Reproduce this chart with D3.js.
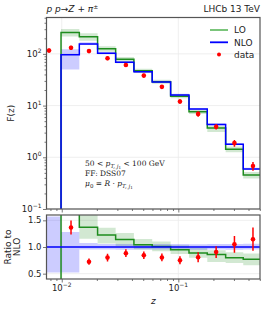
<!DOCTYPE html>
<html>
<head>
<meta charset="utf-8">
<script src="https://cdn.jsdelivr.net/npm/d3@7"></script>
<style>
  body { margin: 0; background: #fff; }
  svg { display: block; font-family: "DejaVu Sans", sans-serif; }
</style>
</head>
<body>
<div id="chart"></div>
<script>
// bin edges in z (first edge is the underflow bin, below the NLO range)
var binEdges = [0.0062, 0.00986, 0.01415, 0.0203, 0.0290, 0.0416, 0.0597, 0.0859, 0.1235, 0.1772, 0.2547, 0.3606, 0.517];

// NLO prediction per bin (bins 1..11)
var nloVal = [96, 156, 103, 69, 45, 28.6, 16, 8.55, 4.31, 1.79, 0.593];
var nloLo  = [50, 149, 98, 65.5, 42.8, 27.2, 15.2, 8.1, 4.1, 1.70, 0.565];
var nloHi  = [123, 168, 109, 73, 47.5, 30.2, 16.9, 9.0, 4.55, 1.89, 0.63];
// ratio band of the underflow bin [lo, hi]
var nloUnderflowBand = [0.52, 1.57];

// LO prediction per bin
var loVal = [259, 214, 126, 78.7, 47, 28.9, 15.2, 7.6, 3.7, 1.43, 0.456];
var loLo  = [217, 180, 110, 70.4, 42.8, 26.3, 13.9, 6.84, 3.1, 1.25, 0.39];
var loHi  = [302, 250, 140, 87, 51.8, 31.5, 16.5, 8.38, 4.05, 1.61, 0.52];

// LHCb data
var dataX   = [0.00778, 0.01201, 0.01713, 0.0247, 0.0355, 0.0506, 0.0723, 0.1033, 0.1479, 0.2111, 0.3030, 0.437];
var dataY   = [116, 131, 113, 82.5, 61, 38, 23, 12, 6.9, 3.9, 1.88, 0.68];
var dataErr = [11, 12.5, 9, 7.5, 5, 3.2, 2.1, 1.2, 0.8, 0.47, 0.28, 0.13];

var mainTicks = [0.1, 1, 10, 100];
var ratioTicks = [0.5, 1.0, 1.5];
var xTicks = [0.01, 0.1];

var W = 267, H = 312;
var left = 46.5, right = 260;
var mainTop = 17.5, mainBottom = 209;
var ratioTop = 215, ratioBottom = 279;

var svg = d3.select("#chart").append("svg")
    .attr("width", W)
    .attr("height", H);

var x = d3.scaleLog().domain([0.0074, 0.502]).range([left, right]);
var y = d3.scaleLog().domain([0.1, 505]).range([mainBottom, mainTop]);
var yr = d3.scaleLinear().domain([0.4, 1.6]).range([ratioBottom, ratioTop]);

var green = "#1e8c1e", blue = "#0000ff", red = "#ff0000";

// minor tick helpers (2..9 per decade)
function minorLog(domain) {
    var out = [];
    for (var e = -4; e <= 4; e++) {
        for (var m = 2; m <= 9; m++) {
            var v = m * Math.pow(10, e);
            if (v >= domain[0] && v <= domain[1]) out.push(v);
        }
    }
    return out;
}

function supLabel(sel, exp) {
    sel.append("tspan").text("10");
    sel.append("tspan").attr("dy", -4).attr("font-size", 6).text(exp < 0 ? "\u2212" + (-exp) : exp);
}

// step helpers: values per bin -> points with repeated last edge
function stepPoints(edges, vals, startVal) {
    var pts = [];
    if (startVal !== undefined) pts.push([edges[0], startVal]);
    for (var i = 0; i < vals.length; i++) pts.push([edges[i], vals[i]]);
    pts.push([edges[vals.length], vals[vals.length - 1]]);
    return pts;
}
function bandPoints(edges, lo, hi) {
    var pts = [];
    for (var i = 0; i < lo.length; i++) pts.push([edges[i], lo[i], hi[i]]);
    pts.push([edges[lo.length], lo[lo.length - 1], hi[hi.length - 1]]);
    return pts;
}

var nloEdges = binEdges.slice(1);

// ---------- clip paths ----------
var defs = svg.append("defs");
defs.append("clipPath").attr("id", "clipMain").append("rect")
    .attr("x", left).attr("y", mainTop).attr("width", right - left).attr("height", mainBottom - mainTop);
defs.append("clipPath").attr("id", "clipRatio").append("rect")
    .attr("x", left).attr("y", ratioTop).attr("width", right - left).attr("height", ratioBottom - ratioTop);

// ---------- grids ----------
function grid(g, yScale, yVals, top, bottom) {
    g.selectAll(".gx").data(xTicks).enter().append("line")
        .attr("x1", function (d) { return x(d); }).attr("x2", function (d) { return x(d); })
        .attr("y1", top).attr("y2", bottom)
        .attr("stroke", "#ebebeb").attr("stroke-width", 0.8);
    g.selectAll(".gy").data(yVals).enter().append("line")
        .attr("x1", left).attr("x2", right)
        .attr("y1", function (d) { return yScale(d); }).attr("y2", function (d) { return yScale(d); })
        .attr("stroke", "#ebebeb").attr("stroke-width", 0.8);
}
grid(svg.append("g"), y, mainTicks, mainTop, mainBottom);
grid(svg.append("g"), yr, ratioTicks, ratioTop, ratioBottom);

// ---------- main panel ----------
var main = svg.append("g").attr("clip-path", "url(#clipMain)");

var areaMain = d3.area().curve(d3.curveStepAfter)
    .x(function (d) { return x(d[0]); })
    .y0(function (d) { return y(d[1]); })
    .y1(function (d) { return y(d[2]); });
var lineMain = d3.line().curve(d3.curveStepAfter)
    .x(function (d) { return x(d[0]); })
    .y(function (d) { return y(d[1]); });

main.append("path").attr("d", areaMain(bandPoints(nloEdges, loLo, loHi)))
    .attr("fill", green).attr("fill-opacity", 0.2);
main.append("path").attr("d", areaMain(bandPoints(nloEdges, nloLo, nloHi)))
    .attr("fill", blue).attr("fill-opacity", 0.2);
main.append("path").attr("d", lineMain(stepPoints(nloEdges, loVal, 0.001)))
    .attr("fill", "none").attr("stroke", green).attr("stroke-width", 1.5);
main.append("path").attr("d", lineMain(stepPoints(nloEdges, nloVal, 0.001)))
    .attr("fill", "none").attr("stroke", blue).attr("stroke-width", 1.5);

main.selectAll(".err").data(dataX).enter().append("line")
    .attr("x1", function (d) { return x(d); }).attr("x2", function (d) { return x(d); })
    .attr("y1", function (d, i) { return y(dataY[i] - dataErr[i]); })
    .attr("y2", function (d, i) { return y(dataY[i] + dataErr[i]); })
    .attr("stroke", red).attr("stroke-width", 1.5);
main.selectAll(".pt").data(dataX).enter().append("circle")
    .attr("cx", function (d) { return x(d); })
    .attr("cy", function (d, i) { return y(dataY[i]); })
    .attr("r", 2.3).attr("fill", red);

// ---------- ratio panel ----------
var ratio = svg.append("g").attr("clip-path", "url(#clipRatio)");

var areaR = d3.area().curve(d3.curveStepAfter)
    .x(function (d) { return x(d[0]); })
    .y0(function (d) { return yr(d[1]); })
    .y1(function (d) { return yr(d[2]); });
var lineR = d3.line().curve(d3.curveStepAfter)
    .x(function (d) { return x(d[0]); })
    .y(function (d) { return yr(d[1]); });

var loRatio = loVal.map(function (v, i) { return v / nloVal[i]; });
var loRatioLo = loLo.map(function (v, i) { return v / nloVal[i]; });
var loRatioHi = loHi.map(function (v, i) { return v / nloVal[i]; });
var nloRatioLo = [nloUnderflowBand[0]].concat(nloLo.map(function (v, i) { return v / nloVal[i]; }));
var nloRatioHi = [nloUnderflowBand[1]].concat(nloHi.map(function (v, i) { return v / nloVal[i]; }));
var nloRatio = [1].concat(nloVal.map(function (v, i) { return v / nloVal[i]; }));

ratio.append("path").attr("d", areaR(bandPoints(nloEdges, loRatioLo, loRatioHi)))
    .attr("fill", green).attr("fill-opacity", 0.2);
ratio.append("path").attr("d", areaR(bandPoints(binEdges, nloRatioLo, nloRatioHi)))
    .attr("fill", blue).attr("fill-opacity", 0.2);
ratio.append("path").attr("d", lineR(stepPoints(nloEdges, loRatio, 0)))
    .attr("fill", "none").attr("stroke", green).attr("stroke-width", 1.5);
ratio.append("path").attr("d", lineR(stepPoints(binEdges, nloRatio)))
    .attr("fill", "none").attr("stroke", blue).attr("stroke-width", 1.5);

// data / NLO, skipping the underflow point
var rData = dataX.slice(1).map(function (d, i) {
    return { z: d, r: dataY[i + 1] / nloVal[i], e: dataErr[i + 1] / nloVal[i] };
});
ratio.selectAll(".rerr").data(rData).enter().append("line")
    .attr("x1", function (d) { return x(d.z); }).attr("x2", function (d) { return x(d.z); })
    .attr("y1", function (d) { return yr(d.r - d.e); })
    .attr("y2", function (d) { return yr(d.r + d.e); })
    .attr("stroke", red).attr("stroke-width", 1.5);
ratio.selectAll(".rpt").data(rData).enter().append("circle")
    .attr("cx", function (d) { return x(d.z); })
    .attr("cy", function (d) { return yr(d.r); })
    .attr("r", 2.3).attr("fill", red);

// ---------- axes ----------
var axisColor = "#555";
function styleAxis(g) {
    g.select(".domain").remove();
    g.selectAll("line").attr("stroke", axisColor).attr("stroke-width", 0.8);
    g.selectAll("text").remove();
}
var xMinor = minorLog(x.domain());

// main x ticks (no labels)
svg.append("g").attr("transform", "translate(0," + mainBottom + ")")
    .call(d3.axisBottom(x).tickValues(xTicks).tickSize(3.5)).call(styleAxis);
svg.append("g").attr("transform", "translate(0," + mainBottom + ")")
    .call(d3.axisBottom(x).tickValues(xMinor).tickSize(2)).call(styleAxis);
// ratio x ticks
svg.append("g").attr("transform", "translate(0," + ratioBottom + ")")
    .call(d3.axisBottom(x).tickValues(xTicks).tickSize(3.5)).call(styleAxis);
svg.append("g").attr("transform", "translate(0," + ratioBottom + ")")
    .call(d3.axisBottom(x).tickValues(xMinor).tickSize(2)).call(styleAxis);
// main y ticks
svg.append("g").attr("transform", "translate(" + left + ",0)")
    .call(d3.axisLeft(y).tickValues(mainTicks).tickSize(3.5)).call(styleAxis);
svg.append("g").attr("transform", "translate(" + left + ",0)")
    .call(d3.axisLeft(y).tickValues(minorLog(y.domain())).tickSize(2)).call(styleAxis);
// ratio y ticks
svg.append("g").attr("transform", "translate(" + left + ",0)")
    .call(d3.axisLeft(yr).tickValues(ratioTicks).tickSize(3.5)).call(styleAxis);

// frames
[[mainTop, mainBottom], [ratioTop, ratioBottom]].forEach(function (p) {
    svg.append("rect").attr("x", left).attr("y", p[0])
        .attr("width", right - left).attr("height", p[1] - p[0])
        .attr("fill", "none").attr("stroke", axisColor).attr("stroke-width", 1.2);
});

// tick labels
var fs = 8.5;
mainTicks.forEach(function (v) {
    var t = svg.append("text").attr("x", left - 5).attr("y", y(v) + 3)
        .attr("text-anchor", "end").attr("font-size", fs).attr("fill", "#222");
    supLabel(t, Math.round(Math.log10(v)));
});
ratioTicks.forEach(function (v) {
    svg.append("text").attr("x", left - 5).attr("y", yr(v) + 3)
        .attr("text-anchor", "end").attr("font-size", fs).attr("fill", "#222")
        .text(d3.format(".1f")(v));
});
xTicks.forEach(function (v) {
    var t = svg.append("text").attr("x", x(v)).attr("y", 291)
        .attr("text-anchor", "middle").attr("font-size", fs).attr("fill", "#222");
    supLabel(t, Math.round(Math.log10(v)));
});

// axis titles
svg.append("text").attr("transform", "translate(14," + ((mainTop + mainBottom) / 2) + ") rotate(-90)")
    .attr("text-anchor", "middle").attr("font-size", 9).attr("fill", "#222").text("F(z)");
var rl = svg.append("text").attr("transform", "translate(11," + ((ratioTop + ratioBottom) / 2) + ") rotate(-90)")
    .attr("text-anchor", "middle").attr("font-size", 9).attr("fill", "#222");
rl.append("tspan").attr("x", 0).attr("dy", 0).text("Ratio to");
rl.append("tspan").attr("x", 0).attr("dy", 9).text("NLO");
svg.append("text").attr("x", (left + right) / 2).attr("y", 304)
    .attr("text-anchor", "middle").attr("font-size", 9).attr("font-style", "italic").attr("fill", "#222").text("z");

// title texts
var tt = svg.append("text").attr("x", left).attr("y", 12).attr("font-size", 9).attr("fill", "#222");
tt.append("tspan").attr("font-style", "italic").text("p p");
tt.append("tspan").text("\u2192");
tt.append("tspan").attr("font-style", "italic").text("Z");
tt.append("tspan").text(" + ");
tt.append("tspan").attr("font-style", "italic").text("\u03c0");
tt.append("tspan").attr("dy", -3).attr("font-size", 6).text("\u00b1");
svg.append("text").attr("x", right).attr("y", 12).attr("text-anchor", "end")
    .attr("font-size", 9).attr("fill", "#222").text("LHCb 13 TeV");

// annotation
var ann = svg.append("g").attr("font-family", "'DejaVu Serif', serif").attr("font-size", 7.5).attr("fill", "#222");
var a1 = ann.append("text").attr("x", 85).attr("y", 166);
a1.append("tspan").text("50 < ");
a1.append("tspan").attr("font-style", "italic").text("p");
a1.append("tspan").attr("dy", 2).attr("font-size", 5.5).attr("font-style", "italic").text("T, j");
a1.append("tspan").attr("dy", 1).attr("font-size", 4).text("1");
a1.append("tspan").attr("dy", -3).text(" < 100 GeV");
ann.append("text").attr("x", 85).attr("y", 176).text("FF: DSS07");
var a3 = ann.append("text").attr("x", 85).attr("y", 186);
a3.append("tspan").attr("font-style", "italic").text("\u03bc");
a3.append("tspan").attr("dy", 2).attr("font-size", 5.5).text("0");
a3.append("tspan").attr("dy", -2).text(" = ");
a3.append("tspan").attr("font-style", "italic").text("R");
a3.append("tspan").text(" \u00b7 ");
a3.append("tspan").attr("font-style", "italic").text("p");
a3.append("tspan").attr("dy", 2).attr("font-size", 5.5).attr("font-style", "italic").text("T, j");
a3.append("tspan").attr("dy", 1).attr("font-size", 4).text("1");

// legend
var legend = [
    { label: "LO", color: "#6dbf6d", type: "line" },
    { label: "NLO", color: blue, type: "line" },
    { label: "data", color: red, type: "dot" }
];
var lg = svg.append("g");
legend.forEach(function (d, i) {
    var ly = 30 + i * 12.3;
    if (d.type === "line") {
        lg.append("line").attr("x1", 210).attr("x2", 228).attr("y1", ly).attr("y2", ly)
            .attr("stroke", d.color).attr("stroke-width", 1.8);
    } else {
        lg.append("circle").attr("cx", 219).attr("cy", ly).attr("r", 2).attr("fill", d.color);
    }
    lg.append("text").attr("x", 234).attr("y", ly + 3.2).attr("font-size", 9).attr("fill", "#222").text(d.label);
});
</script>
</body>
</html>
